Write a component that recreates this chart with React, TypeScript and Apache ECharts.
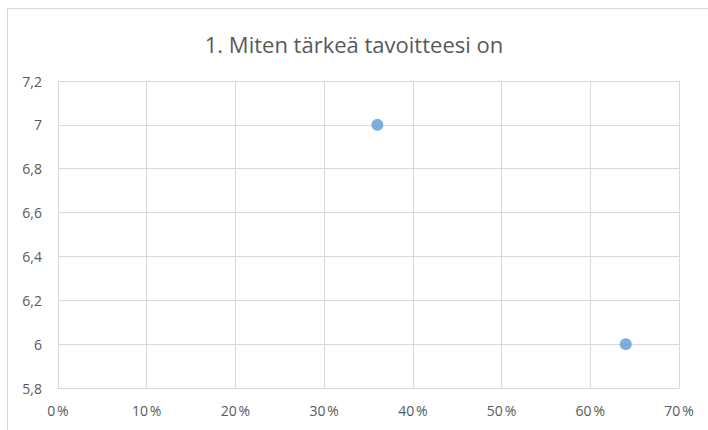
import React, { useEffect, useRef } from "react";
import * as echarts from "echarts";

const chartTitle = "1. Miten tärkeä tavoitteesi on";
// share of answers (x) and importance score (y)
const shares = [0.36, 0.64];
const scores = [7, 6];

const xMin = 0;
const xMax = 0.7;
const xStep = 0.1;
const yMin = 5.8;
const yMax = 7.2;
const yStep = 0.2;

const labelColor = "#595959";
const gridColor = "#d9d9d9";
const pointColor = "#5b9bd5";
const font = "'Open Sans', 'Noto Sans', sans-serif";

export default function App() {
  const ref = useRef<HTMLDivElement>(null);

  useEffect(() => {
    if (!ref.current) return;
    const chart = echarts.init(ref.current, null, { renderer: "svg" });
    const points = shares.map((s, i) => [s, scores[i]]);
    chart.setOption({
      animation: false,
      backgroundColor: "#ffffff",
      title: {
        text: chartTitle,
        left: "center",
        top: 28,
        textStyle: {
          color: labelColor,
          fontFamily: font,
          fontSize: 22,
          fontWeight: "normal",
        },
      },
      graphic: [
        {
          type: "rect",
          shape: { x: 7.5, y: 8.5, width: 740, height: 460 },
          style: { fill: "none", stroke: gridColor, lineWidth: 1 },
          silent: true,
        },
      ],
      grid: { left: 58, right: 29, top: 81, bottom: 42, containLabel: false },
      xAxis: {
        type: "value",
        min: xMin,
        max: xMax,
        interval: xStep,
        axisLine: { show: true, lineStyle: { color: gridColor } },
        axisTick: { show: false },
        splitLine: { show: true, lineStyle: { color: gridColor } },
        axisLabel: {
          color: labelColor,
          fontFamily: font,
          fontSize: 14,
          margin: 15,
          formatter: (v: number) => `${Math.round(v * 100)}\u202F%`,
        },
      },
      yAxis: {
        type: "value",
        min: yMin,
        max: yMax,
        interval: yStep,
        axisLine: { show: false },
        axisTick: { show: false },
        splitLine: { show: true, lineStyle: { color: gridColor } },
        axisLabel: {
          color: labelColor,
          fontFamily: font,
          fontSize: 14,
          margin: 16,
          formatter: (v: number) => String(Math.round(v * 10) / 10).replace(".", ","),
        },
      },
      series: [
        {
          type: "scatter",
          data: points,
          symbol: "circle",
          symbolSize: 12,
          itemStyle: { color: pointColor },
        },
      ],
    });
    return () => chart.dispose();
  }, []);

  return (
    <div
      ref={ref}
      style={{ position: "fixed", left: 0, top: 0, width: 708, height: 430, background: "#fff" }}
    />
  );
}
